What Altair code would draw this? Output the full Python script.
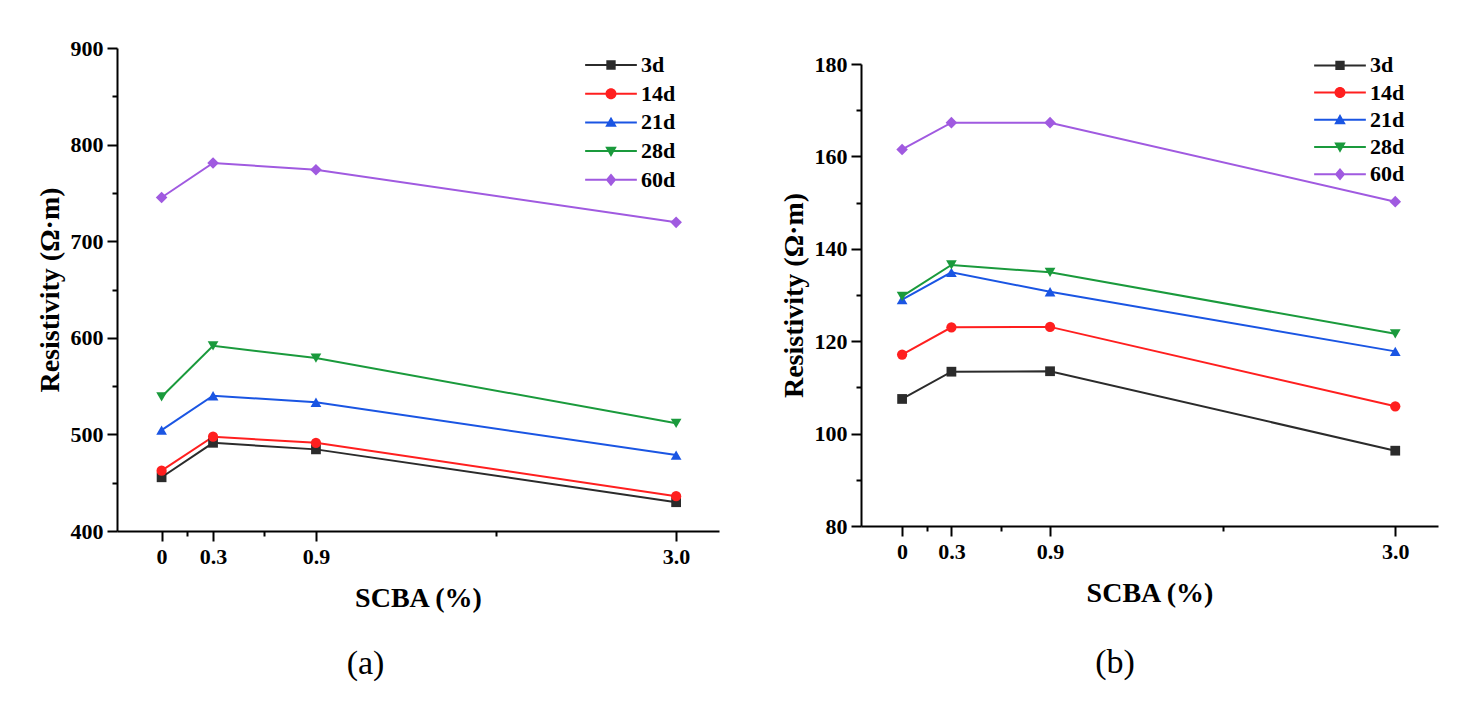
import altair as alt
import pandas as pd

# ---------------- data ----------------
x_vals = [0, 0.3, 0.9, 3.0]
series = ["3d", "14d", "21d", "28d", "60d"]
colors = ["#2b2b2b", "#ff1f1f", "#1a55e3", "#1a9a3c", "#a05ae0"]
shapes = ["square", "circle", "triangle-up", "triangle-down", "diamond"]

a_3d = [455.6, 491.3, 484.5, 429.8]
a_14d = [462.5, 497.6, 491.3, 436.0]
a_21d = [504.4, 540.0, 533.3, 478.6]
a_28d = [538.9, 591.7, 579.0, 511.5]
a_60d = [745.2, 781.0, 774.0, 719.5]

b_3d = [107.5, 113.4, 113.5, 96.3]
b_14d = [117.1, 123.0, 123.1, 105.9]
b_21d = [129.0, 134.9, 130.7, 117.8]
b_28d = [129.7, 136.5, 134.9, 121.6]
b_60d = [161.5, 167.3, 167.3, 150.2]

x_tick_values = [0, 0.15, 0.3, 0.6, 0.9, 1.95, 3.0]

# legend symbols: a line segment with the marker on it (unit box = marker size)
legend_paths = [
    "M-4.7,-0.18H4.7V0.18H-4.7Z M-0.85,-0.85H0.85V0.85H-0.85Z",
    "M-4.7,-0.18H4.7V0.18H-4.7Z M-1,0A1,1,0,1,1,1,0A1,1,0,1,1,-1,0Z",
    "M-4.7,-0.18H4.7V0.18H-4.7Z M0,-1.05L1.05,0.8L-1.05,0.8Z",
    "M-4.7,-0.18H4.7V0.18H-4.7Z M0,1.05L-1.05,-0.8L1.05,-0.8Z",
    "M-4.7,-0.18H4.7V0.18H-4.7Z M0,-1.15L0.95,0L0,1.15L-0.95,0Z",
]
marker_sizes = [95, 105, 115, 115, 135]

FONT = "Liberation Serif"


def make_df(vals):
    rows = []
    for s, v in zip(series, vals):
        for x, y in zip(x_vals, v):
            rows.append({"x": x, "v": y, "s": s})
    return pd.DataFrame(rows)


def panel(df, ydom, ystep, xdom, width, height, leg_x, leg_y, row_pad):
    major = "(datum.value == 0 || datum.value == 0.3 || datum.value == 0.9 || datum.value == 3)"
    xaxis = alt.Axis(
        title="SCBA (%)",
        values=x_tick_values,
        labelExpr=major + " ? (datum.value == 0 ? '0' : format(datum.value, '.1f')) : ''",
        tickSize={"condition": {"test": major, "value": 10}, "value": 5},
        grid=False,
        labelFlush=False,
        labelOverlap=False,
        labelPadding=5,
        titlePadding=17,
    )
    yvals = list(range(ydom[0], ydom[1] + 1, ystep // 2))
    ymajor = f"(datum.value % {ystep} == 0)"
    yaxis = alt.Axis(
        title="Resistivity (Ω·m)",
        values=yvals,
        labelExpr=ymajor + " ? datum.label : ''",
        tickSize={"condition": {"test": ymajor, "value": 10}, "value": 5},
        grid=False,
        labelFlush=False,
        labelOverlap=False,
        labelPadding=4,
        titlePadding=6,
    )
    X = alt.X("x:Q", scale=alt.Scale(domain=xdom, nice=False, zero=False), axis=xaxis)
    Y = alt.Y("v:Q", scale=alt.Scale(domain=ydom, nice=False, zero=False), axis=yaxis)
    C = alt.Color("s:N", scale=alt.Scale(domain=series, range=colors))

    base = alt.Chart(df)
    legend_layer = base.transform_filter("false").mark_point(
        filled=True, size=121, opacity=1
    ).encode(
        x=X, y=Y,
        color=alt.Color("s:N", scale=alt.Scale(domain=series, range=colors),
                        legend=alt.Legend(
                            title=None, orient="none", legendX=leg_x, legendY=leg_y,
                            labelFont=FONT, labelFontSize=22, labelFontWeight="bold",
                            labelColor="black", labelOffset=19, rowPadding=row_pad,
                            symbolSize=121, symbolStrokeWidth=0, symbolOpacity=1,
                        )),
        shape=alt.Shape("s:N", scale=alt.Scale(domain=series, range=legend_paths)),
    )
    lines = base.mark_line(strokeWidth=2).encode(x=X, y=Y, color=C)
    layers = [legend_layer, lines]
    for s, shp, sz in zip(series, shapes, marker_sizes):
        layers.append(
            base.transform_filter(alt.datum.s == s)
            .mark_point(filled=True, shape=shp, size=sz, opacity=1)
            .encode(x=X, y=Y, color=C)
        )
    return alt.layer(*layers).properties(width=width, height=height)


df_a = make_df([a_3d, a_14d, a_21d, a_28d, a_60d])
df_b = make_df([b_3d, b_14d, b_21d, b_28d, b_60d])

pa = panel(df_a, [400, 900], 100, [-0.26, 3.25], 602, 483, 483, 6, 6.7)
pb = panel(df_b, [80, 180], 20, [-0.25, 3.26], 577, 462, 468, 6.4, 5.2)

# empty strip that lowers panel (b) a little, as in the original figure
spacer = alt.Chart(pd.DataFrame({"k": [0]})).mark_point(size=0, opacity=0).encode(
    x=alt.value(0), y=alt.value(0)
).properties(width=577, height=5)


def caption(txt, dx, offset):
    return alt.TitleParams(txt, orient="bottom", font=FONT, fontSize=34,
                           fontWeight="normal", color="black", offset=offset,
                           anchor="middle", frame="bounds", dx=dx)


ca = alt.vconcat(pa, title=caption("(a)", -12, 35), spacing=0)
cb = alt.vconcat(spacer, pb, title=caption("(b)", 6, 39), spacing=0)

chart = alt.hconcat(ca, cb, spacing=61).resolve_scale(
    color="independent", shape="independent", x="independent", y="independent"
).properties(
    padding={"left": 28, "top": 29, "right": 5, "bottom": 5}
).configure_view(stroke=None).configure_axis(
    domainColor="black", domainWidth=2, tickColor="black", tickWidth=2,
    labelFont=FONT, labelFontSize=22, labelFontWeight="bold", labelColor="black",
    titleFont=FONT, titleFontSize=28, titleFontWeight="bold", titleColor="black",
)

chart.save("out.html", embed_options={"renderer": "svg", "actions": False})
